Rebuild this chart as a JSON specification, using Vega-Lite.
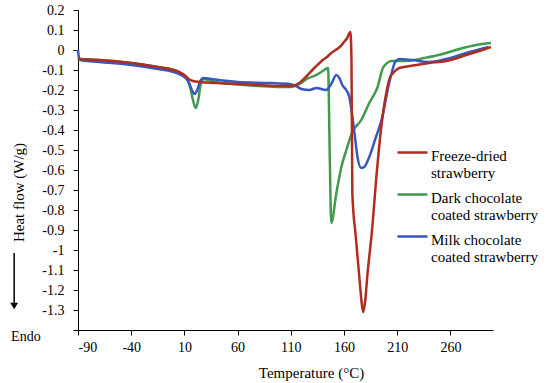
{
  "$schema": "https://vega.github.io/schema/vega-lite/v6.json",
  "width": 415,
  "height": 320,
  "autosize": "none",
  "padding": {"left": 78, "top": 10, "right": 57, "bottom": 53},
  "background": "white",
  "config": {
    "view": {"stroke": null},
    "font": "Liberation Serif",
    "axis": {"grid": false, "domainColor": "black", "tickColor": "black", "labelColor": "black", "titleColor": "black", "labelFont": "Liberation Serif", "titleFont": "Liberation Serif", "labelFontSize": 14, "titleFontSize": 15, "titleFontWeight": "normal", "tickSize": 5, "domainWidth": 1, "tickWidth": 1, "labelOverlap": false}
  },
  "datasets": {
    "curves": [
      {"series": "Dark chocolate coated strawberry", "T": -90, "hf": -0.045},
      {"series": "Dark chocolate coated strawberry", "T": -70, "hf": -0.05},
      {"series": "Dark chocolate coated strawberry", "T": -40, "hf": -0.065},
      {"series": "Dark chocolate coated strawberry", "T": -15, "hf": -0.085},
      {"series": "Dark chocolate coated strawberry", "T": 0, "hf": -0.1},
      {"series": "Dark chocolate coated strawberry", "T": 5, "hf": -0.11},
      {"series": "Dark chocolate coated strawberry", "T": 10, "hf": -0.13},
      {"series": "Dark chocolate coated strawberry", "T": 13, "hf": -0.15},
      {"series": "Dark chocolate coated strawberry", "T": 16, "hf": -0.2},
      {"series": "Dark chocolate coated strawberry", "T": 18.5, "hf": -0.26},
      {"series": "Dark chocolate coated strawberry", "T": 20.6, "hf": -0.29},
      {"series": "Dark chocolate coated strawberry", "T": 23, "hf": -0.25},
      {"series": "Dark chocolate coated strawberry", "T": 25, "hf": -0.18},
      {"series": "Dark chocolate coated strawberry", "T": 28, "hf": -0.145},
      {"series": "Dark chocolate coated strawberry", "T": 32, "hf": -0.15},
      {"series": "Dark chocolate coated strawberry", "T": 45, "hf": -0.165},
      {"series": "Dark chocolate coated strawberry", "T": 60, "hf": -0.172},
      {"series": "Dark chocolate coated strawberry", "T": 80, "hf": -0.18},
      {"series": "Dark chocolate coated strawberry", "T": 100, "hf": -0.185},
      {"series": "Dark chocolate coated strawberry", "T": 110, "hf": -0.185},
      {"series": "Dark chocolate coated strawberry", "T": 118, "hf": -0.17},
      {"series": "Dark chocolate coated strawberry", "T": 125, "hf": -0.145},
      {"series": "Dark chocolate coated strawberry", "T": 134, "hf": -0.125},
      {"series": "Dark chocolate coated strawberry", "T": 140, "hf": -0.105},
      {"series": "Dark chocolate coated strawberry", "T": 145, "hf": -0.09},
      {"series": "Dark chocolate coated strawberry", "T": 146.5, "hf": -0.5},
      {"series": "Dark chocolate coated strawberry", "T": 148, "hf": -0.865},
      {"series": "Dark chocolate coated strawberry", "T": 152.8, "hf": -0.715},
      {"series": "Dark chocolate coated strawberry", "T": 157.5, "hf": -0.585},
      {"series": "Dark chocolate coated strawberry", "T": 162.2, "hf": -0.5},
      {"series": "Dark chocolate coated strawberry", "T": 167.8, "hf": -0.41},
      {"series": "Dark chocolate coated strawberry", "T": 176.2, "hf": -0.35},
      {"series": "Dark chocolate coated strawberry", "T": 183.7, "hf": -0.265},
      {"series": "Dark chocolate coated strawberry", "T": 191.2, "hf": -0.19},
      {"series": "Dark chocolate coated strawberry", "T": 197, "hf": -0.085},
      {"series": "Dark chocolate coated strawberry", "T": 205, "hf": -0.055},
      {"series": "Dark chocolate coated strawberry", "T": 218, "hf": -0.055},
      {"series": "Dark chocolate coated strawberry", "T": 235, "hf": -0.04},
      {"series": "Dark chocolate coated strawberry", "T": 249, "hf": -0.025},
      {"series": "Dark chocolate coated strawberry", "T": 265, "hf": 0.0},
      {"series": "Dark chocolate coated strawberry", "T": 284, "hf": 0.025},
      {"series": "Dark chocolate coated strawberry", "T": 298, "hf": 0.035},

      {"series": "Milk chocolate coated strawberry", "T": -90, "hf": 0.0},
      {"series": "Milk chocolate coated strawberry", "T": -89, "hf": -0.04},
      {"series": "Milk chocolate coated strawberry", "T": -88, "hf": -0.05},
      {"series": "Milk chocolate coated strawberry", "T": -70, "hf": -0.06},
      {"series": "Milk chocolate coated strawberry", "T": -40, "hf": -0.075},
      {"series": "Milk chocolate coated strawberry", "T": -15, "hf": -0.095},
      {"series": "Milk chocolate coated strawberry", "T": 0, "hf": -0.11},
      {"series": "Milk chocolate coated strawberry", "T": 5, "hf": -0.12},
      {"series": "Milk chocolate coated strawberry", "T": 10, "hf": -0.135},
      {"series": "Milk chocolate coated strawberry", "T": 14, "hf": -0.16},
      {"series": "Milk chocolate coated strawberry", "T": 17, "hf": -0.2},
      {"series": "Milk chocolate coated strawberry", "T": 19.7, "hf": -0.22},
      {"series": "Milk chocolate coated strawberry", "T": 22, "hf": -0.2},
      {"series": "Milk chocolate coated strawberry", "T": 25, "hf": -0.155},
      {"series": "Milk chocolate coated strawberry", "T": 28, "hf": -0.14},
      {"series": "Milk chocolate coated strawberry", "T": 35, "hf": -0.145},
      {"series": "Milk chocolate coated strawberry", "T": 60, "hf": -0.16},
      {"series": "Milk chocolate coated strawberry", "T": 90, "hf": -0.165},
      {"series": "Milk chocolate coated strawberry", "T": 108.8, "hf": -0.17},
      {"series": "Milk chocolate coated strawberry", "T": 115, "hf": -0.18},
      {"series": "Milk chocolate coated strawberry", "T": 120, "hf": -0.195},
      {"series": "Milk chocolate coated strawberry", "T": 127.5, "hf": -0.2},
      {"series": "Milk chocolate coated strawberry", "T": 134, "hf": -0.19},
      {"series": "Milk chocolate coated strawberry", "T": 143, "hf": -0.2},
      {"series": "Milk chocolate coated strawberry", "T": 148, "hf": -0.17},
      {"series": "Milk chocolate coated strawberry", "T": 152.8, "hf": -0.125},
      {"series": "Milk chocolate coated strawberry", "T": 155.6, "hf": -0.14},
      {"series": "Milk chocolate coated strawberry", "T": 158.4, "hf": -0.175},
      {"series": "Milk chocolate coated strawberry", "T": 162, "hf": -0.2},
      {"series": "Milk chocolate coated strawberry", "T": 165, "hf": -0.235},
      {"series": "Milk chocolate coated strawberry", "T": 167, "hf": -0.3},
      {"series": "Milk chocolate coated strawberry", "T": 169.7, "hf": -0.41},
      {"series": "Milk chocolate coated strawberry", "T": 172.5, "hf": -0.53},
      {"series": "Milk chocolate coated strawberry", "T": 176, "hf": -0.59},
      {"series": "Milk chocolate coated strawberry", "T": 179, "hf": -0.585},
      {"series": "Milk chocolate coated strawberry", "T": 183.7, "hf": -0.535},
      {"series": "Milk chocolate coated strawberry", "T": 190, "hf": -0.435},
      {"series": "Milk chocolate coated strawberry", "T": 196, "hf": -0.335},
      {"series": "Milk chocolate coated strawberry", "T": 201, "hf": -0.2},
      {"series": "Milk chocolate coated strawberry", "T": 205, "hf": -0.11},
      {"series": "Milk chocolate coated strawberry", "T": 208, "hf": -0.06},
      {"series": "Milk chocolate coated strawberry", "T": 212, "hf": -0.045},
      {"series": "Milk chocolate coated strawberry", "T": 224, "hf": -0.05},
      {"series": "Milk chocolate coated strawberry", "T": 240, "hf": -0.06},
      {"series": "Milk chocolate coated strawberry", "T": 256, "hf": -0.045},
      {"series": "Milk chocolate coated strawberry", "T": 275, "hf": -0.015},
      {"series": "Milk chocolate coated strawberry", "T": 296, "hf": 0.015},

      {"series": "Freeze-dried strawberry", "T": -90, "hf": -0.04},
      {"series": "Freeze-dried strawberry", "T": -88, "hf": -0.045},
      {"series": "Freeze-dried strawberry", "T": -70, "hf": -0.05},
      {"series": "Freeze-dried strawberry", "T": -40, "hf": -0.065},
      {"series": "Freeze-dried strawberry", "T": -15, "hf": -0.085},
      {"series": "Freeze-dried strawberry", "T": 0, "hf": -0.1},
      {"series": "Freeze-dried strawberry", "T": 5, "hf": -0.11},
      {"series": "Freeze-dried strawberry", "T": 10, "hf": -0.125},
      {"series": "Freeze-dried strawberry", "T": 14, "hf": -0.145},
      {"series": "Freeze-dried strawberry", "T": 18, "hf": -0.155},
      {"series": "Freeze-dried strawberry", "T": 25, "hf": -0.16},
      {"series": "Freeze-dried strawberry", "T": 40, "hf": -0.165},
      {"series": "Freeze-dried strawberry", "T": 60, "hf": -0.17},
      {"series": "Freeze-dried strawberry", "T": 80, "hf": -0.175},
      {"series": "Freeze-dried strawberry", "T": 100, "hf": -0.18},
      {"series": "Freeze-dried strawberry", "T": 110, "hf": -0.18},
      {"series": "Freeze-dried strawberry", "T": 118, "hf": -0.165},
      {"series": "Freeze-dried strawberry", "T": 125, "hf": -0.13},
      {"series": "Freeze-dried strawberry", "T": 132, "hf": -0.09},
      {"series": "Freeze-dried strawberry", "T": 136, "hf": -0.07},
      {"series": "Freeze-dried strawberry", "T": 140, "hf": -0.05},
      {"series": "Freeze-dried strawberry", "T": 144, "hf": -0.035},
      {"series": "Freeze-dried strawberry", "T": 148, "hf": -0.015},
      {"series": "Freeze-dried strawberry", "T": 152, "hf": 0.0},
      {"series": "Freeze-dried strawberry", "T": 156, "hf": 0.015},
      {"series": "Freeze-dried strawberry", "T": 160, "hf": 0.04},
      {"series": "Freeze-dried strawberry", "T": 163, "hf": 0.06},
      {"series": "Freeze-dried strawberry", "T": 166, "hf": 0.09},
      {"series": "Freeze-dried strawberry", "T": 167, "hf": -0.05},
      {"series": "Freeze-dried strawberry", "T": 167.8, "hf": -0.715},
      {"series": "Freeze-dried strawberry", "T": 171, "hf": -0.93},
      {"series": "Freeze-dried strawberry", "T": 174.4, "hf": -1.135},
      {"series": "Freeze-dried strawberry", "T": 176.5, "hf": -1.26},
      {"series": "Freeze-dried strawberry", "T": 178, "hf": -1.31},
      {"series": "Freeze-dried strawberry", "T": 180, "hf": -1.25},
      {"series": "Freeze-dried strawberry", "T": 181.8, "hf": -1.135},
      {"series": "Freeze-dried strawberry", "T": 186.6, "hf": -0.885},
      {"series": "Freeze-dried strawberry", "T": 190, "hf": -0.66},
      {"series": "Freeze-dried strawberry", "T": 195, "hf": -0.385},
      {"series": "Freeze-dried strawberry", "T": 199.7, "hf": -0.215},
      {"series": "Freeze-dried strawberry", "T": 203, "hf": -0.14},
      {"series": "Freeze-dried strawberry", "T": 207, "hf": -0.11},
      {"series": "Freeze-dried strawberry", "T": 212, "hf": -0.09},
      {"series": "Freeze-dried strawberry", "T": 222, "hf": -0.08},
      {"series": "Freeze-dried strawberry", "T": 240, "hf": -0.065},
      {"series": "Freeze-dried strawberry", "T": 256, "hf": -0.055},
      {"series": "Freeze-dried strawberry", "T": 275, "hf": -0.025},
      {"series": "Freeze-dried strawberry", "T": 290, "hf": 0.0},
      {"series": "Freeze-dried strawberry", "T": 298, "hf": 0.015}
    ],
    "arrow": [
      {"T": -150, "top": -1.015, "bottom": -1.27}
    ],
    "arrowhead": [
      {"T": -150, "hf": -1.28}
    ],
    "endo": [
      {"T": -139, "hf": -1.435, "label": "Endo"}
    ]
  },
  "layer": [
    {
      "data": {"name": "curves"},
      "mark": {"type": "line", "strokeWidth": 2.5, "interpolate": "monotone"},
      "encoding": {
        "x": {
          "field": "T", "type": "quantitative",
          "scale": {"domain": [-90, 300], "nice": false, "zero": false},
          "axis": {"title": "Temperature (°C)", "values": [-90, -40, 10, 60, 110, 160, 210, 260], "tickCount": 20, "labelExpr": "toString(datum.value)", "labelPadding": 5, "labelOverlap": false, "titleX": 233, "titleY": 42, "titleBaseline": "middle", "titleAnchor": "middle"}
        },
        "y": {
          "field": "hf", "type": "quantitative",
          "scale": {"domain": [-1.4, 0.2], "nice": false, "zero": false},
          "axis": {"title": "Heat flow (W/g)", "values": [0.2, 0.1, 0, -0.1, -0.2, -0.3, -0.4, -0.5, -0.6, -0.7, -0.8, -0.9, -1, -1.1, -1.2, -1.3, -1.4], "tickCount": 40, "labelExpr": "datum.value < -1.35 ? '' : toString(round(datum.value * 10) / 10)", "labelOverlap": false, "labelFontSize": 14, "labelPadding": 9, "titleX": -60, "titleY": 182, "titleBaseline": "middle", "titleAngle": -90}
        },
        "color": {
          "field": "series", "type": "nominal",
          "scale": {"domain": ["Freeze-dried strawberry", "Dark chocolate coated strawberry", "Milk chocolate coated strawberry"], "range": ["#B02C1E", "#3F9A4E", "#3658BE"]},
          "legend": {
            "title": null, "orient": "none", "legendX": 318, "legendY": 129,
            "symbolType": "M-1,-0.2L1,-0.2", "symbolSize": 900, "symbolStrokeWidth": 2.5,
            "labelFont": "Liberation Serif", "labelFontSize": 15, "labelColor": "black", "labelLineHeight": 20, "labelLimit": 200, "labelOffset": 2, "rowPadding": -1, "labelBaseline": "middle",
            "labelExpr": "datum.label == 'Freeze-dried strawberry' ? ['Freeze-dried', 'strawberry'] : [slice(datum.label, 0, 14), slice(datum.label, 15)]"
          }
        }
      }
    },
    {
      "data": {"name": "arrow"},
      "mark": {"type": "rule", "color": "black", "strokeWidth": 1.5},
      "encoding": {
        "x": {"field": "T", "type": "quantitative"},
        "y": {"field": "top", "type": "quantitative"},
        "y2": {"field": "bottom"}
      }
    },
    {
      "data": {"name": "arrowhead"},
      "mark": {"type": "point", "shape": "triangle-down", "filled": true, "color": "black", "size": 60, "opacity": 1},
      "encoding": {
        "x": {"field": "T", "type": "quantitative"},
        "y": {"field": "hf", "type": "quantitative"}
      }
    },
    {
      "data": {"name": "endo"},
      "mark": {"type": "text", "font": "Liberation Serif", "fontSize": 14, "color": "black", "align": "center", "baseline": "middle"},
      "encoding": {
        "x": {"field": "T", "type": "quantitative"},
        "y": {"field": "hf", "type": "quantitative"},
        "text": {"field": "label"}
      }
    }
  ]
}
